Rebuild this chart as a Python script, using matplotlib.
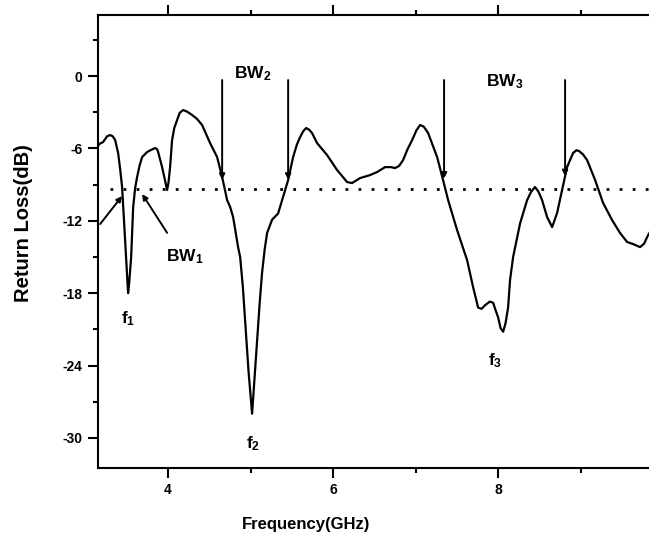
import numpy as np
import matplotlib
matplotlib.use('Agg')
import matplotlib.pyplot as plt
from matplotlib.ticker import MultipleLocator

plt.rcParams['font.family'] = 'Liberation Sans'
plt.rcParams['font.weight'] = 'bold'
plt.rcParams['mathtext.fontset'] = 'custom'
plt.rcParams['mathtext.rm'] = 'Liberation Sans:bold'
plt.rcParams['mathtext.bf'] = 'Liberation Sans:bold'
plt.rcParams['mathtext.default'] = 'regular'
plt.rcParams['axes.unicode_minus'] = False

# Frequenz (GHz) und Return Loss (dB)
freq = [3.152, 3.164, 3.212, 3.260, 3.297, 3.330, 3.358, 3.394, 3.420, 3.442,
        3.479, 3.500, 3.515, 3.530, 3.552, 3.576, 3.600, 3.624, 3.655, 3.685,
        3.745, 3.800, 3.842, 3.865, 3.879, 3.927, 3.960, 3.988, 4.005, 4.024,
        4.048, 4.075, 4.109, 4.140, 4.182, 4.230, 4.291, 4.350, 4.412, 4.509,
        4.594, 4.655, 4.715, 4.752, 4.788, 4.848, 4.873, 4.905, 4.933, 4.975,
        5.018, 5.050, 5.079, 5.110, 5.139, 5.170, 5.200, 5.261, 5.333, 5.394,
        5.455, 5.515, 5.560, 5.600, 5.640, 5.673, 5.710, 5.745, 5.806, 5.927,
        6.048, 6.170, 6.230, 6.327, 6.448, 6.533, 6.630, 6.700, 6.752, 6.800,
        6.848, 6.900, 6.958, 7.010, 7.055, 7.100, 7.152, 7.261, 7.333, 7.394,
        7.503, 7.624, 7.697, 7.758, 7.800, 7.842, 7.900, 7.940, 7.964, 8.000,
        8.030, 8.061, 8.090, 8.121, 8.145, 8.182, 8.267, 8.352, 8.400, 8.448,
        8.490, 8.533, 8.594, 8.655, 8.715, 8.776, 8.836, 8.909, 8.950, 8.982,
        9.030, 9.079, 9.176, 9.273, 9.382, 9.479, 9.564, 9.636, 9.721, 9.770,
        9.806, 9.867]
rl = [-5.80, -5.64, -5.47, -5.00, -4.89, -5.00, -5.31, -6.38, -7.80, -9.20,
      -13.6, -16.2, -18.0, -17.0, -15.0, -10.9, -9.30, -8.37, -7.40, -6.72,
      -6.30, -6.10, -5.97, -6.05, -6.30, -7.55, -8.60, -9.45, -8.80, -7.55,
      -5.31, -4.30, -3.65, -3.05, -2.82, -2.95, -3.23, -3.55, -4.06, -5.56,
      -6.72, -8.37, -10.28, -10.86, -11.69, -14.18, -15.0, -17.4, -20.2, -24.5,
      -28.0, -24.8, -21.9, -18.8, -16.3, -14.4, -13.0, -11.9, -11.4, -10.0,
      -8.62, -6.72, -5.70, -5.06, -4.55, -4.31, -4.45, -4.73, -5.56, -6.55,
      -7.79, -8.79, -8.87, -8.46, -8.21, -7.96, -7.55, -7.55, -7.63, -7.45,
      -6.97, -6.10, -5.31, -4.50, -4.06, -4.20, -4.73, -6.72, -8.62, -10.28,
      -12.77, -15.26, -17.5, -19.2, -19.3, -19.0, -18.7, -18.8, -19.3, -20.0,
      -20.9, -21.2, -20.5, -19.2, -16.9, -15.0, -12.2, -10.28, -9.60, -9.20,
      -9.60, -10.28, -11.69, -12.52, -11.36, -9.45, -7.55, -6.38, -6.15, -6.22,
      -6.50, -6.97, -8.62, -10.53, -11.94, -13.02, -13.76, -13.93, -14.18, -13.90,
      -13.35, -12.6]

ref_level = -9.4
bw_x = [4.655, 5.455, 7.345, 8.812]
bw_tip = [-8.6, -8.6, -8.5, -8.3]
bw_top = -0.33

fig = plt.figure(figsize=(6.49, 5.35), dpi=100)
ax = fig.add_axes([0.151, 0.1252, 0.858, 0.8467])

ax.plot(freq, rl, color='black', lw=1.6)
ax.hlines(ref_level, 3.3, 9.9, colors='black', lw=2, linestyles=(0, (1, 3.7)))

arr = dict(arrowstyle='-|>', color='black', lw=1.4, mutation_scale=8,
           shrinkA=0, shrinkB=0)
for xv, tip in zip(bw_x, bw_tip):
    ax.annotate('', xy=(xv, tip), xytext=(xv, bw_top), arrowprops=arr)
ax.annotate('', xy=(3.442, -9.95), xytext=(3.176, -12.27), arrowprops=arr)
ax.annotate('', xy=(3.685, -9.78), xytext=(3.988, -13.0), arrowprops=arr)

fs = 12.5
ax.text(5.02, -0.17, 'BW$_2$', fontsize=fs, ha='center', va='baseline')
ax.text(8.085, -0.83, 'BW$_3$', fontsize=fs, ha='center', va='baseline')
ax.text(4.206, -15.4, 'BW$_1$', fontsize=fs, ha='center', va='baseline')
ax.text(3.515, -20.5, 'f$_1$', fontsize=fs, ha='center', va='baseline')
ax.text(5.03, -30.85, 'f$_2$', fontsize=fs, ha='center', va='baseline')
ax.text(7.964, -23.96, 'f$_3$', fontsize=fs, ha='center', va='baseline')

ax.set_xlim(3.15, 9.9)
ax.set_ylim(-32.5, 5.06)
ax.xaxis.set_major_locator(MultipleLocator(2))
ax.xaxis.set_minor_locator(MultipleLocator(1))
ax.yaxis.set_major_locator(MultipleLocator(6))
ax.yaxis.set_minor_locator(MultipleLocator(3))
ax.set_yticks([0, -6, -12, -18, -24, -30])
ax.tick_params(which='both', direction='out', width=1.5, top=True,
               labelsize=10, pad=4)
ax.tick_params(which='major', length=7)
ax.tick_params(which='minor', length=3.5)
for s in ax.spines.values():
    s.set_linewidth(1.5)

ax.set_xlabel('Frequency(GHz)', fontsize=12, fontweight='bold')
ax.xaxis.set_label_coords(0.373, -0.108)
ax.set_ylabel('Return Loss(dB)', fontsize=14.5, fontweight='bold')
ax.yaxis.set_label_coords(-0.117, 0.541)

fig.savefig('out.png', dpi=100)
